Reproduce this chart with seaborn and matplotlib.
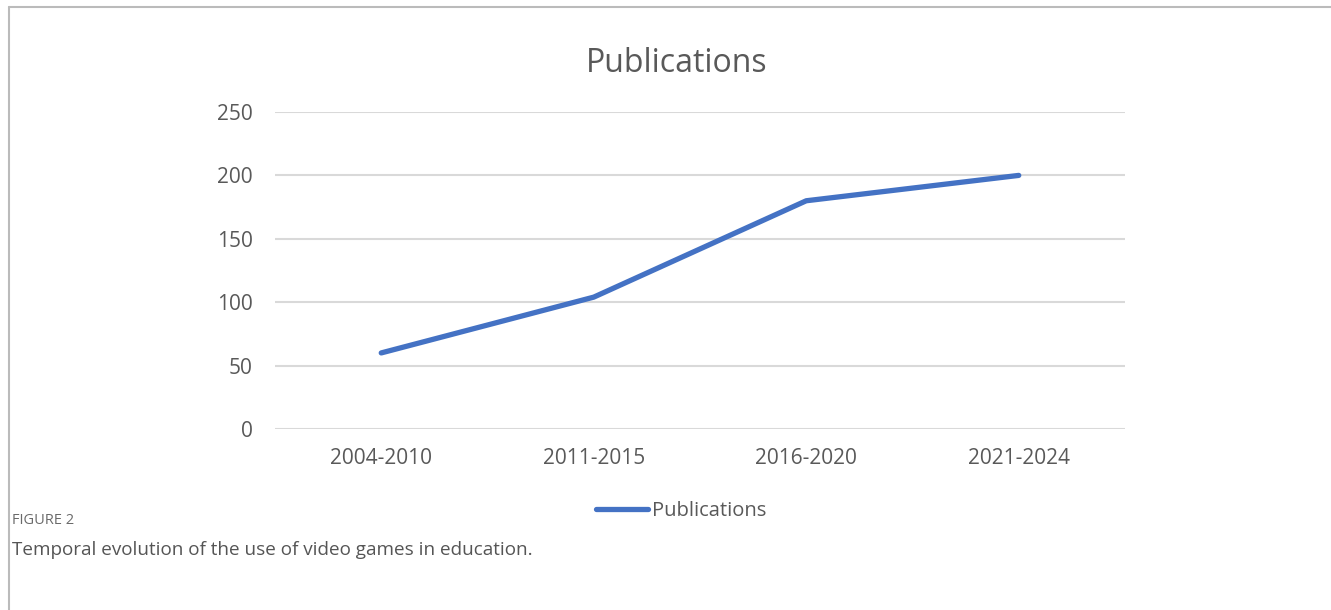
import numpy as np
import pandas as pd
import matplotlib.pyplot as plt
import seaborn as sns

# data
periods = ['2004-2010', '2011-2015', '2016-2020', '2021-2024']
publications = [60, 104, 180, 200]
y_ticks = [0, 50, 100, 150, 200, 250]

df = pd.DataFrame({'period': periods, 'Publications': publications})

sns.set_theme(style='white')
plt.rcParams['font.family'] = ['Open Sans', 'DejaVu Sans']

fig = plt.figure(figsize=(13.31, 6.10), dpi=100)
ax = fig.add_axes([275 / 1331, 1 - 429 / 610, 850 / 1331, 317 / 610])

df['x'] = np.arange(len(periods))
sns.lineplot(data=df, x='x', y='Publications', ax=ax, color='#4472C4',
             linewidth=3.8, solid_capstyle='round', label='Publications', legend=False)

ax.set_xlim(-0.5, len(periods) - 0.5)
ax.set_ylim(0, 250)
ax.set_xticks(df['x'])
ax.set_xticklabels(periods)
ax.set_yticks(y_ticks)
ax.set_xlabel('')
ax.set_ylabel('')
ax.grid(axis='y', color='#D9D9D9', linewidth=1.5)
ax.set_axisbelow(True)
for s in ax.spines.values():
    s.set_visible(False)
ax.tick_params(axis='both', length=0, labelsize=15, labelcolor='#595959')
ax.tick_params(axis='y', pad=16)
ax.tick_params(axis='x', pad=14)

fig.text(677 / 1331, 1 - 63 / 610, 'Publications', ha='center', va='center',
         fontsize=23, color='#595959')

handles, labels = ax.get_legend_handles_labels()
fig.legend(handles, labels, loc='center', bbox_to_anchor=(681 / 1331, 1 - 511 / 610),
           frameon=False, fontsize=14.5, labelcolor='#595959', handlelength=2.6,
           handletextpad=0.15)

# caption
fig.text(12 / 1331, 1 - 521 / 610, 'FIGURE 2', ha='left', va='center',
         fontsize=10.5, color='#6a6a6a')
fig.text(12 / 1331, 1 - 550 / 610, 'Temporal evolution of the use of video games in education.',
         ha='left', va='center', fontsize=13.6, color='#555555')

# frame lines (top and left)
fig.add_artist(plt.Line2D([9 / 1331, 1], [1 - 7 / 610, 1 - 7 / 610], color='#BBBBBB', linewidth=1.5))
fig.add_artist(plt.Line2D([9 / 1331, 9 / 1331], [0, 1 - 7 / 610], color='#BBBBBB', linewidth=1.5))

fig.savefig('out.png', dpi=100)
